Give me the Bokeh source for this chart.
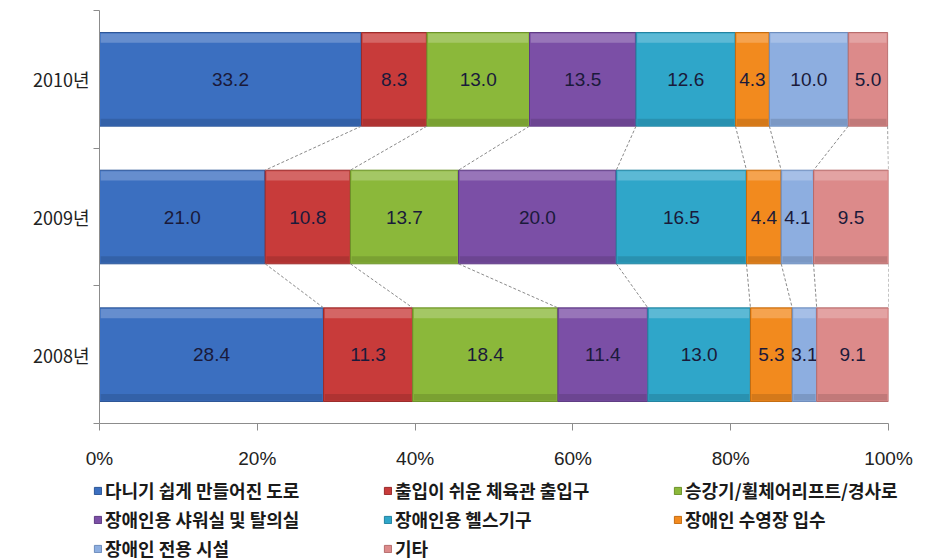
import numpy as np
from bokeh.plotting import figure
from bokeh.layouts import column, row
from bokeh.models import FixedTicker, Legend, LegendItem, Range1d, ColumnDataSource
from bokeh.core.properties import value
from bokeh.embed import file_html
from bokeh.resources import INLINE

years = ["2008년", "2009년", "2010년"]
series_names = ["다니기 쉽게 만들어진 도로", "출입이 쉬운 체육관 출입구", "승강기/휠체어리프트/경사로",
                "장애인용 샤워실 및 탈의실", "장애인용 헬스기구", "장애인 수영장 입수",
                "장애인 전용 시설", "기타"]
# values per series for [2008, 2009, 2010]
v_road = [28.4, 21.0, 33.2]
v_gym = [11.3, 10.8, 8.3]
v_lift = [18.4, 13.7, 13.0]
v_shower = [11.4, 20.0, 13.5]
v_health = [13.0, 16.5, 12.6]
v_pool = [5.3, 4.4, 4.3]
v_exclusive = [3.1, 4.1, 10.0]
v_other = [9.1, 9.5, 5.0]
series_values = [v_road, v_gym, v_lift, v_shower, v_health, v_pool, v_exclusive, v_other]
colors = ["#3B6FC0", "#C83B3A", "#8BB83A", "#7B4FA6", "#2FA6C9", "#F28A1E", "#8DAEE0", "#DC8A8A"]
outline = ["#2C5596", "#9A2B2A", "#6C9229", "#5E3A82", "#22829F", "#C46B10", "#6D8CBC", "#B66C6C"]
x_ticks = [0, 20, 40, 60, 80, 100]

BAR_H = 0.68
ypos = np.arange(len(years)) + 0.5

p = figure(width=933, height=477, output_backend="svg", toolbar_location=None,
           x_range=Range1d(0, 100), y_range=Range1d(0, 3),
           min_border_left=99, min_border_right=45, min_border_top=10, min_border_bottom=54)
p.outline_line_color = None
p.grid.grid_line_color = None
p.background_fill_color = "white"

vals = np.array(series_values)  # shape (8, 3)
cum = np.cumsum(vals, axis=0)
lefts = cum - vals

for i, name in enumerate(series_names):
    src = ColumnDataSource(dict(y=ypos, left=lefts[i], right=cum[i],
                                mid=(lefts[i] + cum[i]) / 2,
                                lab=["%.1f" % v for v in vals[i]]))
    p.hbar(y="y", left="left", right="right", height=BAR_H, source=src,
           fill_color=colors[i], line_color=outline[i], line_width=1)
    # bevel look: light top band, darker bottom band
    p.hbar(y=ypos + BAR_H * 0.44, left=lefts[i] + 0.15, right=cum[i] - 0.15, height=BAR_H * 0.10,
           fill_color="white", fill_alpha=0.22, line_color=None)
    p.hbar(y=ypos - BAR_H * 0.455, left=lefts[i] + 0.15, right=cum[i] - 0.15, height=BAR_H * 0.07,
           fill_color="black", fill_alpha=0.12, line_color=None)
    p.text(x="mid", y="y", text="lab", source=src, text_align="center", text_baseline="middle",
           text_font=value("Liberation Sans"), text_font_size="19px", text_color="#1A1A3A")

# dashed connectors between adjacent bars at each cumulative boundary
for j in range(len(years) - 1):
    lower, upper = j, j + 1
    p.segment(x0=cum[:, upper], y0=np.full(len(series_names), ypos[upper] - BAR_H / 2),
              x1=cum[:, lower], y1=np.full(len(series_names), ypos[lower] + BAR_H / 2),
              line_color="#8A8A8A", line_dash="3 2", line_width=1)

# x axis
p.xaxis.ticker = FixedTicker(ticks=x_ticks, minor_ticks=[])
p.xaxis.major_label_overrides = {t: "%d%%" % t for t in x_ticks}
p.xaxis.axis_line_color = "#8C8C8C"
p.xaxis.major_tick_line_color = "#8C8C8C"
p.xaxis.major_tick_out = 7
p.xaxis.major_tick_in = 0
p.xaxis.major_label_standoff = 17
p.xaxis.major_label_text_font = "Liberation Sans"
p.xaxis.major_label_text_font_size = "19px"
p.xaxis.major_label_text_color = "#222222"

# y axis: labels at category centres, tick marks at category boundaries
p.yaxis.ticker = FixedTicker(ticks=list(ypos), minor_ticks=[0, 1, 2, 3])
p.yaxis.major_label_overrides = {float(y): t for y, t in zip(ypos, years)}
p.yaxis.axis_line_color = "#8C8C8C"
p.yaxis.major_tick_line_color = None
p.yaxis.major_tick_out = 0
p.yaxis.minor_tick_line_color = "#8C8C8C"
p.yaxis.minor_tick_out = 6
p.yaxis.minor_tick_in = 0
p.yaxis.major_label_standoff = 4
p.yaxis.major_label_text_font = "Noto Sans CJK KR"
p.yaxis.major_label_text_font_size = "18px"
p.yaxis.major_label_text_color = "#222222"

# legend in its own strip below the chart
lg = figure(width=933, height=83, output_backend="svg", toolbar_location=None,
            x_range=Range1d(0, 1), y_range=Range1d(0, 1),
            min_border_left=93, min_border_right=0, min_border_top=0, min_border_bottom=0)
lg.outline_line_color = None
lg.grid.grid_line_color = None
lg.axis.visible = False
items = []
for i, name in enumerate(series_names):
    # legend key only: placed outside the visible range
    r = lg.hbar(y=[-5], left=[-5], right=[-4], height=0.5, fill_color=colors[i], line_color=outline[i])
    items.append(LegendItem(label=name, renderers=[r]))
legend = Legend(items=items, ncols=3, location="top_left", orientation="horizontal",
                glyph_width=9, glyph_height=9, label_standoff=3, label_width=275,
                label_height=20, spacing=3, padding=0, margin=0, border_line_color=None,
                background_fill_alpha=0,
                label_text_font="Noto Sans CJK KR", label_text_font_size="18px",
                label_text_font_style="bold", label_text_color="#1A1A1A")
lg.add_layout(legend, "center")

open("out.html", "w").write(file_html(column(p, row(lg, spacing=0), spacing=0), INLINE))
